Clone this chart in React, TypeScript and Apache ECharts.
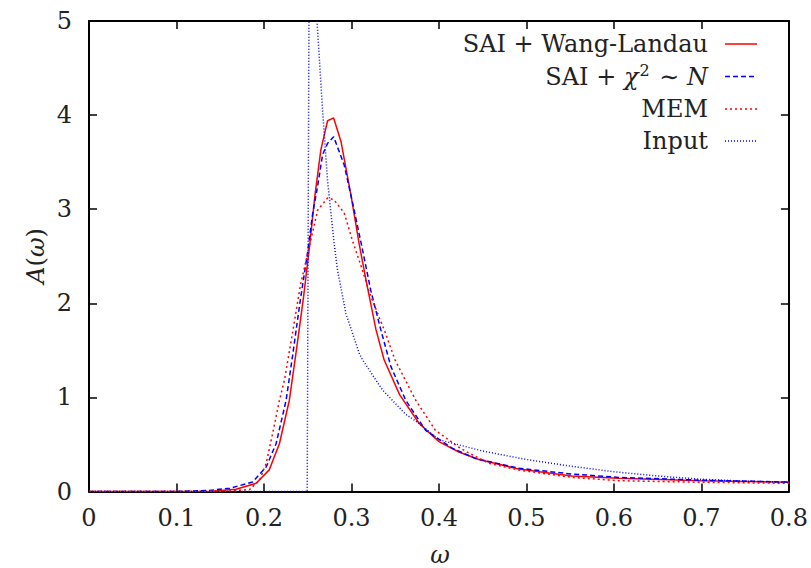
import React, { useEffect, useRef } from 'react';
import * as echarts from 'echarts';

// ---- data ----
const wlOmega = [0, 0.1, 0.14, 0.168, 0.191, 0.206, 0.2177, 0.229, 0.237, 0.245, 0.252, 0.2583, 0.265, 0.2727, 0.2796, 0.288, 0.2994, 0.309, 0.3172, 0.328, 0.3373, 0.355, 0.3772, 0.4, 0.4228, 0.4456, 0.491, 0.552, 0.605, 0.7, 0.8];
const wlA = [0, 0, 0.002, 0.023, 0.087, 0.23, 0.51, 0.97, 1.5, 2.05, 2.6, 3.15, 3.63, 3.94, 3.97, 3.72, 3.15, 2.62, 2.22, 1.72, 1.4, 1.03, 0.725, 0.53, 0.42, 0.34, 0.24, 0.165, 0.14, 0.115, 0.098];

const chiOmega = [0, 0.1, 0.135, 0.1607, 0.187, 0.2025, 0.2139, 0.2253, 0.2328, 0.241, 0.25, 0.2556, 0.2614, 0.267, 0.2727, 0.2796, 0.2917, 0.301, 0.3126, 0.322, 0.3335, 0.345, 0.362, 0.3848, 0.415, 0.4418, 0.491, 0.552, 0.605, 0.7, 0.8];
const chiA = [0, 0, 0.01, 0.034, 0.1, 0.26, 0.51, 0.97, 1.45, 2.0, 2.55, 2.95, 3.25, 3.58, 3.7, 3.77, 3.47, 3.08, 2.57, 2.14, 1.72, 1.33, 0.97, 0.65, 0.46, 0.35, 0.247, 0.186, 0.15, 0.12, 0.1];

const memOmega = [0, 0.15, 0.1835, 0.195, 0.2025, 0.21, 0.2177, 0.2234, 0.232, 0.2414, 0.25, 0.2614, 0.2727, 0.28, 0.2917, 0.301, 0.3126, 0.321, 0.339, 0.3497, 0.3734, 0.396, 0.4228, 0.434, 0.457, 0.491, 0.552, 0.605, 0.7, 0.8];
const memA = [0, 0, 0.02, 0.12, 0.3, 0.62, 0.97, 1.185, 1.65, 2.18, 2.53, 2.99, 3.12, 3.1, 2.96, 2.67, 2.35, 2.1, 1.68, 1.4, 0.97, 0.65, 0.47, 0.41, 0.3, 0.228, 0.15, 0.115, 0.098, 0.087];

const inputOmega = [0, 0.2494, 0.2522, 0.2606, 0.267, 0.2727, 0.28, 0.2841, 0.2937, 0.3088, 0.3126, 0.3354, 0.362, 0.3734, 0.4, 0.45, 0.5, 0.55, 0.6, 0.65, 0.7, 0.75, 0.8];
const inputA = [0, 0, 7.0, 5.0, 4.05, 3.3, 2.65, 2.35, 1.89, 1.47, 1.4, 1.08, 0.82, 0.75, 0.55, 0.43, 0.34, 0.27, 0.21, 0.165, 0.13, 0.11, 0.098];

const xTicks = { min: 0, max: 0.8, interval: 0.1 };
const yTicks = { min: 0, max: 5, interval: 1 };

const FONT = 'DejaVu Serif';
const FS = 24;

function zip(xs: number[], ys: number[]) {
  return xs.map((x, i) => [x, ys[i]]);
}

export default function App() {
  const ref = useRef<HTMLDivElement>(null);
  useEffect(() => {
    const chart = echarts.init(ref.current!, null, { renderer: 'svg' });
    const axisLine = { show: true, onZero: false, lineStyle: { color: '#000', width: 2 } };
    const axisTick = { show: true, inside: true, length: 8, lineStyle: { color: '#000', width: 1.5 } };
    const labelStyle = { fontFamily: FONT, fontSize: FS, color: '#222' };
    const legendRows = [
      { y: 44, color: '#ff0000', type: 'solid' as any },
      { y: 76.5, color: '#0000ff', type: [5, 3] },
      { y: 109, color: '#ff0000', type: [2, 3] },
      { y: 141, color: '#0000ff', type: [1, 2] },
    ];
    const legendTexts = [
      '{r|SAI + Wang-Landau}',
      '{r|SAI + }{i|χ}{s|2}{r| ∼ }{i|N}',
      '{r|MEM}',
      '{r|Input}',
    ];
    const rich = {
      r: { fontFamily: FONT, fontSize: FS, color: '#222' },
      i: { fontFamily: FONT, fontSize: FS, fontStyle: 'italic', color: '#222' },
      s: { fontFamily: FONT, fontSize: 16, color: '#222', verticalAlign: 'top', padding: [0, 2, 12, 1] },
    };
    const graphic: any[] = [];
    legendRows.forEach((row, k) => {
      graphic.push({
        type: 'text',
        x: 708,
        y: row.y,
        style: {
          text: legendTexts[k],
          rich,
          fontFamily: FONT,
          fontSize: FS,
          fill: '#222',
          align: 'right',
          verticalAlign: 'middle',
        },
      });
      graphic.push({
        type: 'line',
        shape: { x1: 725, y1: row.y, x2: 757, y2: row.y },
        style: { stroke: row.color, lineWidth: 1.5, lineDash: row.type === 'solid' ? null : row.type },
      });
    });
    graphic.push({
      type: 'text',
      x: 440,
      y: 555,
      style: { text: 'ω', fontFamily: FONT, fontSize: FS, fontStyle: 'italic', fill: '#222', align: 'center', verticalAlign: 'middle' },
    });
    graphic.push({
      type: 'text',
      x: 36,
      y: 256,
      rotation: Math.PI / 2,
      style: {
        text: '{i|A}{r|(}{i|ω}{r|)}',
        rich,
        fontFamily: FONT,
        fontSize: FS,
        fill: '#222',
        align: 'center',
        verticalAlign: 'middle',
      },
    });

    const series = [
      { name: 'SAI + Wang-Landau', data: zip(wlOmega, wlA), color: '#ff0000', type: 'solid' as any },
      { name: 'SAI + chi2 ~ N', data: zip(chiOmega, chiA), color: '#0000ff', type: [5, 3] },
      { name: 'MEM', data: zip(memOmega, memA), color: '#ff0000', type: [2, 3] },
      { name: 'Input', data: zip(inputOmega, inputA), color: '#0000ff', type: [1, 2] },
    ].map((s) => ({
      type: 'line',
      name: s.name,
      data: s.data,
      xAxisIndex: 0,
      yAxisIndex: 0,
      symbol: 'none',
      showSymbol: false,
      clip: true,
      lineStyle: { color: s.color, width: 1.5, type: s.type },
      itemStyle: { color: s.color },
    }));

    chart.setOption({
      animation: false,
      backgroundColor: '#fff',
      textStyle: { fontFamily: FONT },
      grid: { left: 89, right: 20, top: 21, bottom: 76.5, containLabel: false },
      xAxis: [
        {
          type: 'value', ...xTicks, position: 'bottom', axisLine, axisTick,
          axisLabel: { ...labelStyle, margin: 14 }, splitLine: { show: false },
        },
        {
          type: 'value', ...xTicks, position: 'top', axisLine, axisTick,
          axisLabel: { show: false }, splitLine: { show: false },
        },
      ],
      yAxis: [
        {
          type: 'value', ...yTicks, position: 'left', axisLine, axisTick,
          axisLabel: { ...labelStyle, margin: 17 }, splitLine: { show: false },
        },
        {
          type: 'value', ...yTicks, position: 'right', axisLine, axisTick,
          axisLabel: { show: false }, splitLine: { show: false },
        },
      ],
      series,
      graphic,
    });
    return () => chart.dispose();
  }, []);
  return (
    <div
      ref={ref}
      style={{ position: 'fixed', left: 0, top: 0, width: 811, height: 568, background: '#fff' }}
    />
  );
}
